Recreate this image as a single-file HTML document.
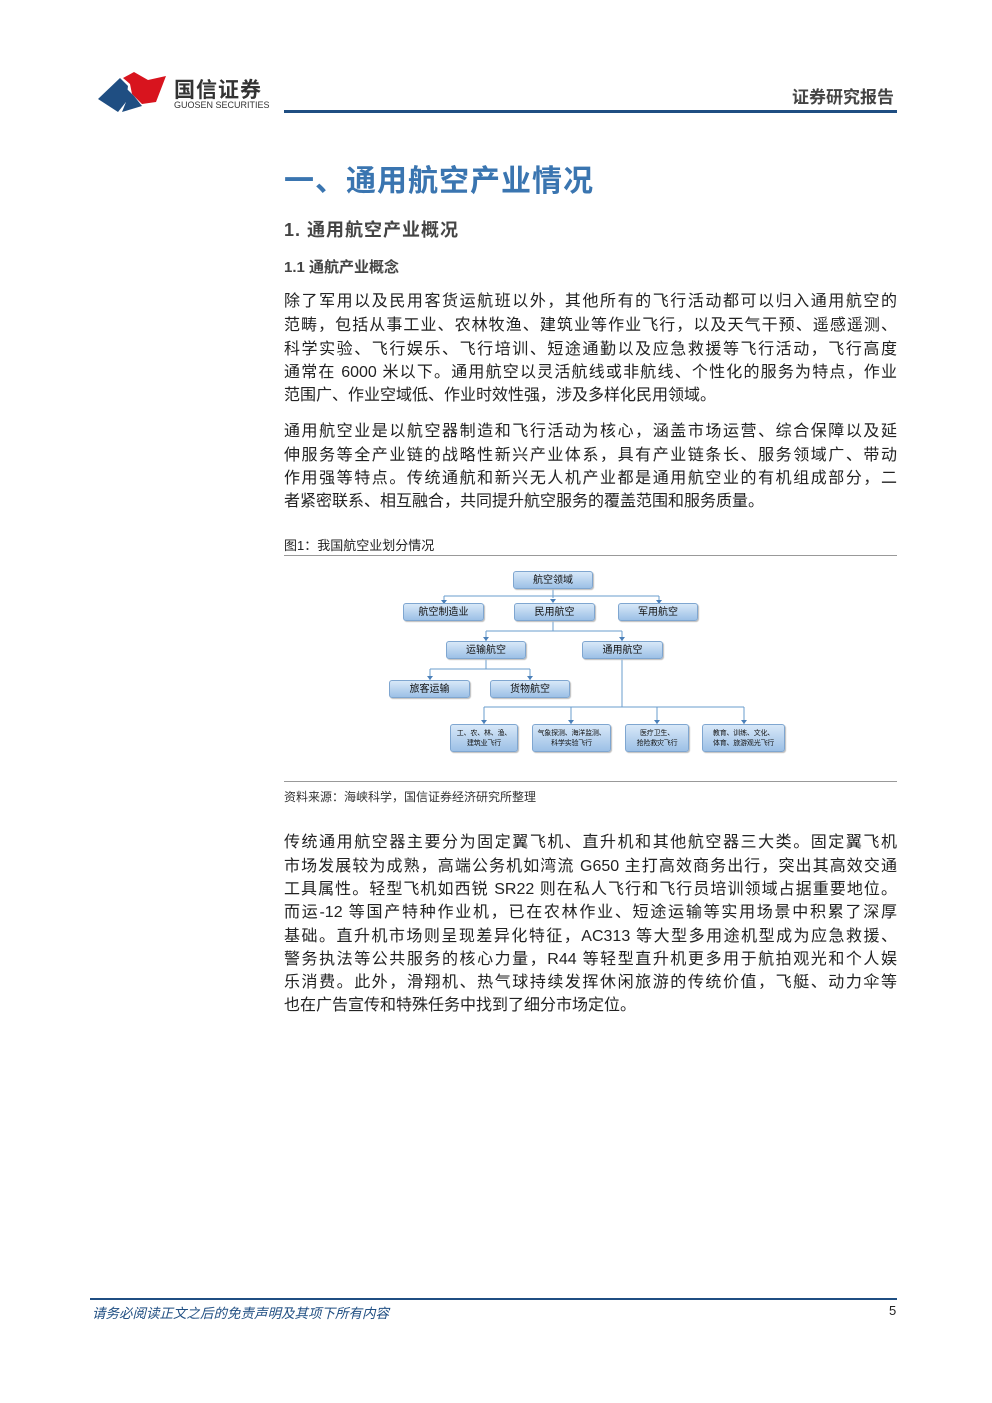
<!DOCTYPE html>
<html><head><meta charset="utf-8"><style>
body{margin:0;background:#fff;}
.pg{position:relative;width:992px;height:1403px;overflow:hidden;font-family:"Liberation Sans","Noto Sans CJK SC",sans-serif;color:#222;}
.a{position:absolute;white-space:nowrap;}
.ln{position:absolute;left:284px;width:613px;font-size:16px;height:24px;line-height:24px;text-align:justify;text-align-last:justify;white-space:nowrap;}
.ln.l{text-align-last:left;}
.nd{position:absolute;height:18px;background:linear-gradient(#d8e8f8,#9cc0e6);border:1px solid #7fa6d0;border-radius:3px;font-size:10px;line-height:18px;text-align:center;color:#111;box-sizing:border-box;box-shadow:1px 1px 1px #bbb;white-space:nowrap;}
.nd.s{height:28px;font-size:7px;line-height:10px;padding-top:4px;letter-spacing:-0.2px;}
</style></head><body><div class="pg">
<svg class="a" style="left:98px;top:72px" width="70" height="42" viewBox="0 0 70 42">
<polygon points="0,27 22,6 30,14 28,30 20,40" fill="#1f4e82"/>
<polygon points="25,6 36,0 50,8 68,4 58,30 44,32 34,22 32,12" fill="#d8141e"/>
<polygon points="28,16 36,24 44,34 24,40 28,30" fill="#1f4e82"/>
</svg>
<div class="a" style="left:174px;top:74px;font-size:21px;font-weight:bold;color:#333;letter-spacing:1px">国信证券</div>
<div class="a" style="left:174px;top:100px;font-size:9px;color:#333">GUOSEN SECURITIES</div>
<div class="a" style="left:792px;top:83px;font-size:17px;font-weight:bold;color:#444">证券研究报告</div>
<div class="a" style="left:284px;top:110px;width:613px;height:3px;background:#1f4e82"></div>
<div class="a" style="left:284px;top:156px;font-size:30px;font-weight:bold;color:#3a75b0;letter-spacing:1px">一、通用航空产业情况</div>
<div class="a" style="left:284px;top:216px;font-size:18px;font-weight:bold;color:#444;letter-spacing:1px">1. 通用航空产业概况</div>
<div class="a" style="left:284px;top:256px;font-size:15px;font-weight:bold;color:#444">1.1 通航产业概念</div>
<div class="ln" style="top:290px">除了军用以及民用客货运航班以外，其他所有的飞行活动都可以归入通用航空的</div>
<div class="ln" style="top:314px">范畴，包括从事工业、农林牧渔、建筑业等作业飞行，以及天气干预、遥感遥测、</div>
<div class="ln" style="top:338px">科学实验、飞行娱乐、飞行培训、短途通勤以及应急救援等飞行活动，飞行高度</div>
<div class="ln" style="top:361px">通常在 6000 米以下。通用航空以灵活航线或非航线、个性化的服务为特点，作业</div>
<div class="ln l" style="top:384px">范围广、作业空域低、作业时效性强，涉及多样化民用领域。</div>
<div class="ln" style="top:420px">通用航空业是以航空器制造和飞行活动为核心，涵盖市场运营、综合保障以及延</div>
<div class="ln" style="top:444px">伸服务等全产业链的战略性新兴产业体系，具有产业链条长、服务领域广、带动</div>
<div class="ln" style="top:467px">作用强等特点。传统通航和新兴无人机产业都是通用航空业的有机组成部分，二</div>
<div class="ln l" style="top:490px">者紧密联系、相互融合，共同提升航空服务的覆盖范围和服务质量。</div>
<div class="a" style="left:284px;top:535px;font-size:13px;color:#222">图1：我国航空业划分情况</div>
<div class="a" style="left:284px;top:555px;width:613px;height:1px;background:#999"></div>
<svg class="a" style="left:0;top:0" width="992" height="800">
<g stroke="#6a9ccc" stroke-width="1" fill="none">
<path d="M553 588V598M444 596H659M444 596V603M659 596V603"/>
<path d="M553 621V631M486 631H622M486 631V641M622 631V641"/>
<path d="M486 659V669M430 669H530M430 669V680M530 669V680"/>
<path d="M622 659V707M484 707H744M484 707V724M571 707V724M657 707V724M744 707V724"/>
</g>
<g fill="#4a7fb8">
<path d="M441 600h6l-3 4zM656 600h6l-3 4zM550 599h6l-3 4zM483 637h6l-3 4zM619 637h6l-3 4zM427 676h6l-3 4zM527 676h6l-3 4zM481 720h6l-3 4zM568 720h6l-3 4zM654 720h6l-3 4zM741 720h6l-3 4z"/>
</g>
</svg>
<div class="nd" style="left:513px;top:571px;width:80px">航空领域</div>
<div class="nd" style="left:403px;top:603px;width:81px">航空制造业</div>
<div class="nd" style="left:514px;top:603px;width:81px">民用航空</div>
<div class="nd" style="left:618px;top:603px;width:80px">军用航空</div>
<div class="nd" style="left:446px;top:641px;width:80px">运输航空</div>
<div class="nd" style="left:582px;top:641px;width:81px">通用航空</div>
<div class="nd" style="left:389px;top:680px;width:81px">旅客运输</div>
<div class="nd" style="left:490px;top:680px;width:80px">货物航空</div>
<div class="nd s" style="left:450px;top:724px;width:68px">工、农、林、渔、<br>建筑业飞行</div>
<div class="nd s" style="left:532px;top:724px;width:79px">气象探测、海洋监测、<br>科学实验飞行</div>
<div class="nd s" style="left:625px;top:724px;width:64px">医疗卫生、<br>抢险救灾飞行</div>
<div class="nd s" style="left:702px;top:724px;width:83px">教育、训练、文化、<br>体育、旅游观光飞行</div>
<div class="a" style="left:284px;top:781px;width:613px;height:1px;background:#999"></div>
<div class="a" style="left:284px;top:788px;font-size:12px;color:#333">资料来源：海峡科学，国信证券经济研究所整理</div>
<div class="ln" style="top:831px">传统通用航空器主要分为固定翼飞机、直升机和其他航空器三大类。固定翼飞机</div>
<div class="ln" style="top:855px">市场发展较为成熟，高端公务机如湾流 G650 主打高效商务出行，突出其高效交通</div>
<div class="ln" style="top:878px">工具属性。轻型飞机如西锐 SR22 则在私人飞行和飞行员培训领域占据重要地位。</div>
<div class="ln" style="top:901px">而运-12 等国产特种作业机，已在农林作业、短途运输等实用场景中积累了深厚</div>
<div class="ln" style="top:925px">基础。直升机市场则呈现差异化特征，AC313 等大型多用途机型成为应急救援、</div>
<div class="ln" style="top:948px">警务执法等公共服务的核心力量，R44 等轻型直升机更多用于航拍观光和个人娱</div>
<div class="ln" style="top:971px">乐消费。此外，滑翔机、热气球持续发挥休闲旅游的传统价值，飞艇、动力伞等</div>
<div class="ln l" style="top:994px">也在广告宣传和特殊任务中找到了细分市场定位。</div>
<div class="a" style="left:90px;top:1298px;width:807px;height:2px;background:#1f4e82"></div>
<div class="a" style="left:92px;top:1302px;font-size:13.5px;font-style:italic;color:#1f4e82">请务必阅读正文之后的免责声明及其项下所有内容</div>
<div class="a" style="left:889px;top:1303px;font-size:13px;color:#222">5</div>
</div></body></html>
